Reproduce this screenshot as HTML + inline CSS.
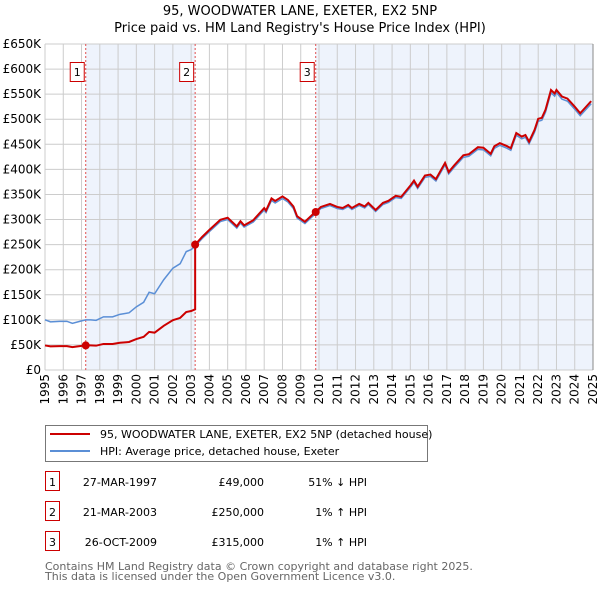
<!DOCTYPE html>
<html><head><meta charset="utf-8"><style>
body{margin:0;background:#fff;font-family:"DejaVu Sans","Liberation Sans",sans-serif;}
svg{display:block}
</style></head><body>
<svg id="c" width="600" height="590" xmlns="http://www.w3.org/2000/svg" font-family="DejaVu Sans, Liberation Sans, sans-serif">
<text x="300" y="15" font-size="13" text-anchor="middle">95, WOODWATER LANE, EXETER, EX2 5NP</text>
<text x="300" y="32" font-size="13" text-anchor="middle">Price paid vs. HM Land Registry's House Price Index (HPI)</text>
<g id="plot"></g>
<g>
<rect x="45.5" y="425.5" width="382" height="36" fill="#fff" stroke="#777"/>
<line x1="50" y1="434" x2="90" y2="434" stroke="#cc0000" stroke-width="2"/>
<text x="100" y="438" font-size="11">95, WOODWATER LANE, EXETER, EX2 5NP (detached house)</text>
<line x1="50" y1="451" x2="90" y2="451" stroke="#5b8fd6" stroke-width="2"/>
<text x="100" y="455" font-size="11">HPI: Average price, detached house, Exeter</text>
</g>
<g id="table" font-size="11"></g>
<text x="45" y="570" font-size="11" fill="#666">Contains HM Land Registry data © Crown copyright and database right 2025.</text>
<text x="45" y="580" font-size="11" fill="#666">This data is licensed under the Open Government Licence v3.0.</text>
</svg>
<script>
const years=[1995,1996,1997,1998,1999,2000,2001,2002,2003,2004,2005,2006,2007,2008,2009,2010,2011,2012,2013,2014,2015,2016,2017,2018,2019,2020,2021,2022,2023,2024,2025];
const yTicks=[0,50,100,150,200,250,300,350,400,450,500,550,600,650];
const yTickLabels=["£0","£50K","£100K","£150K","£200K","£250K","£300K","£350K","£400K","£450K","£500K","£550K","£600K","£650K"];
const hpiT=[1995.0,1995.3,1995.8,1996.2,1996.5,1997.0,1997.23,1997.5,1997.8,1998.2,1998.7,1999.1,1999.6,2000.0,2000.4,2000.7,2001.0,2001.5,2002.0,2002.4,2002.73,2003.0,2003.22,2003.6,2004.0,2004.6,2005.0,2005.5,2005.7,2005.9,2006.4,2007.0,2007.1,2007.4,2007.6,2008.0,2008.3,2008.6,2008.8,2009.23,2009.82,2010.1,2010.6,2011.0,2011.3,2011.6,2011.8,2012.2,2012.5,2012.7,2013.1,2013.5,2013.8,2014.2,2014.5,2015.0,2015.2,2015.4,2015.8,2016.1,2016.4,2016.9,2017.1,2017.4,2017.9,2018.2,2018.7,2019.0,2019.4,2019.6,2019.9,2020.3,2020.5,2020.8,2021.1,2021.3,2021.5,2021.8,2022.0,2022.2,2022.4,2022.7,2022.9,2023.0,2023.3,2023.6,2024.0,2024.3,2024.9];
const hpiV=[100,96,97,97,93,98,100,100,99,106,106,111,114,126,135,155,152,180,203,212,236,240,247,262,276,296,300,283,293,285,295,319,314,338,333,342,335,322,303,292,312,322,328,322,320,326,320,328,323,330,316,330,334,344,342,364,374,362,384,386,377,409,391,404,424,426,440,439,427,442,448,442,438,468,461,464,451,474,496,498,514,553,546,553,540,536,520,507,531];
const saleT=[1997.23,2003.22,2009.82];
const saleV=[49,250,315];
const saleLabels=["1","2","3"];
const saleDates=["27-MAR-1997","21-MAR-2003","26-OCT-2009"];
const salePrices=["£49,000","£250,000","£315,000"];
const saleDiffs=["51% ↓ HPI","1% ↑ HPI","1% ↑ HPI"];

const NS="http://www.w3.org/2000/svg";
const X0=45,X1=593,Y0=370,Y1=44;
const xs=t=>X0+(t-1995)/30*(X1-X0);
const ys=v=>Y0-v/650*(Y0-Y1);
function mk(tag,attrs,parent){const e=document.createElementNS(NS,tag);for(const k in attrs)e.setAttribute(k,attrs[k]);parent.appendChild(e);return e;}
function hpiAt(t){for(let i=1;i<hpiT.length;i++){if(t<=hpiT[i]){const f=(t-hpiT[i-1])/(hpiT[i]-hpiT[i-1]);return hpiV[i-1]+f*(hpiV[i]-hpiV[i-1]);}}return hpiV[hpiV.length-1];}
const plot=document.getElementById('plot');
const shadeStarts=[saleT[0],saleT[2]],shadeEnds=[saleT[1],2025];
for(let i=0;i<2;i++){const r=mk('rect',{x:xs(shadeStarts[i]),y:Y1,width:xs(shadeEnds[i])-xs(shadeStarts[i]),height:Y0-Y1,fill:'#eef3fc'},plot);

}
years.forEach(y=>{const l=mk('line',{x1:xs(y),x2:xs(y),y1:Y1,y2:Y0,stroke:'#cccccc'},plot);


const tx=xs(y)+4,ty=Y0+4;
const t=mk('text',{x:tx,y:ty,'font-size':12,'text-anchor':'end',transform:`rotate(-90 ${tx} ${ty})`},plot);t.textContent=y;

});
yTicks.forEach((v,i)=>{const l=mk('line',{x1:X0,x2:X1,y1:ys(v),y2:ys(v),stroke:'#cccccc'},plot);


const t=mk('text',{x:X0-4,y:ys(v)+4,'font-size':12,'text-anchor':'end'},plot);t.textContent=yTickLabels[i];

});
const bl=mk('line',{x1:X1,x2:X1,y1:Y1,y2:Y0,stroke:'#888'},plot);


saleT.forEach((t,i)=>{const l=mk('line',{x1:xs(t),x2:xs(t),y1:Y1,y2:Y0,stroke:'#e05050','stroke-dasharray':'2,2'},plot);


const r=mk('rect',{x:xs(t)-15.5,y:62.5,width:14,height:19,fill:'#fff',stroke:'#cc0000'},plot);


const tx=mk('text',{x:xs(t)-8.5,y:76,'font-size':11,'text-anchor':'middle'},plot);tx.textContent=saleLabels[i];

});
const hp=mk('polyline',{points:hpiT.map((t,i)=>xs(t)+','+ys(hpiV[i])).join(' '),fill:'none',stroke:'#5b8fd6','stroke-width':1.5},plot);


function factorAt(t){let k=0;for(let i=0;i<saleT.length;i++)if(t>=saleT[i])k=i;return saleV[k]/hpiAt(saleT[k]);}
let pts=[];
hpiT.forEach((t,i)=>{
  saleT.forEach((s,j)=>{if(j>0&&i>0&&hpiT[i-1]<s&&t>=s){pts.push(xs(s)+','+ys(hpiAt(s)*saleV[j-1]/hpiAt(saleT[j-1])));}});
  pts.push(xs(t)+','+ys(hpiV[i]*factorAt(t)));});
const pl=mk('polyline',{points:pts.join(' '),fill:'none',stroke:'#cc0000','stroke-width':2},plot);


saleT.forEach((t,i)=>{const c=mk('circle',{cx:xs(t),cy:ys(saleV[i]),r:4,fill:'#cc0000'},plot);

});
const tb=document.getElementById('table');
saleT.forEach((t,i)=>{const y=483+i*30;
const r=mk('rect',{x:45.5,y:y-11.5,width:14,height:19,fill:'#fff',stroke:'#cc0000'},tb);


const a=mk('text',{x:52.5,y:y+3,'text-anchor':'middle'},tb);a.textContent=saleLabels[i];


const b=mk('text',{x:157,y:y+3,'text-anchor':'end'},tb);b.textContent=saleDates[i];


const c=mk('text',{x:264,y:y+3,'text-anchor':'end'},tb);c.textContent=salePrices[i];


const d=mk('text',{x:367,y:y+3,'text-anchor':'end'},tb);d.textContent=saleDiffs[i];

});
</script>
</body></html>
